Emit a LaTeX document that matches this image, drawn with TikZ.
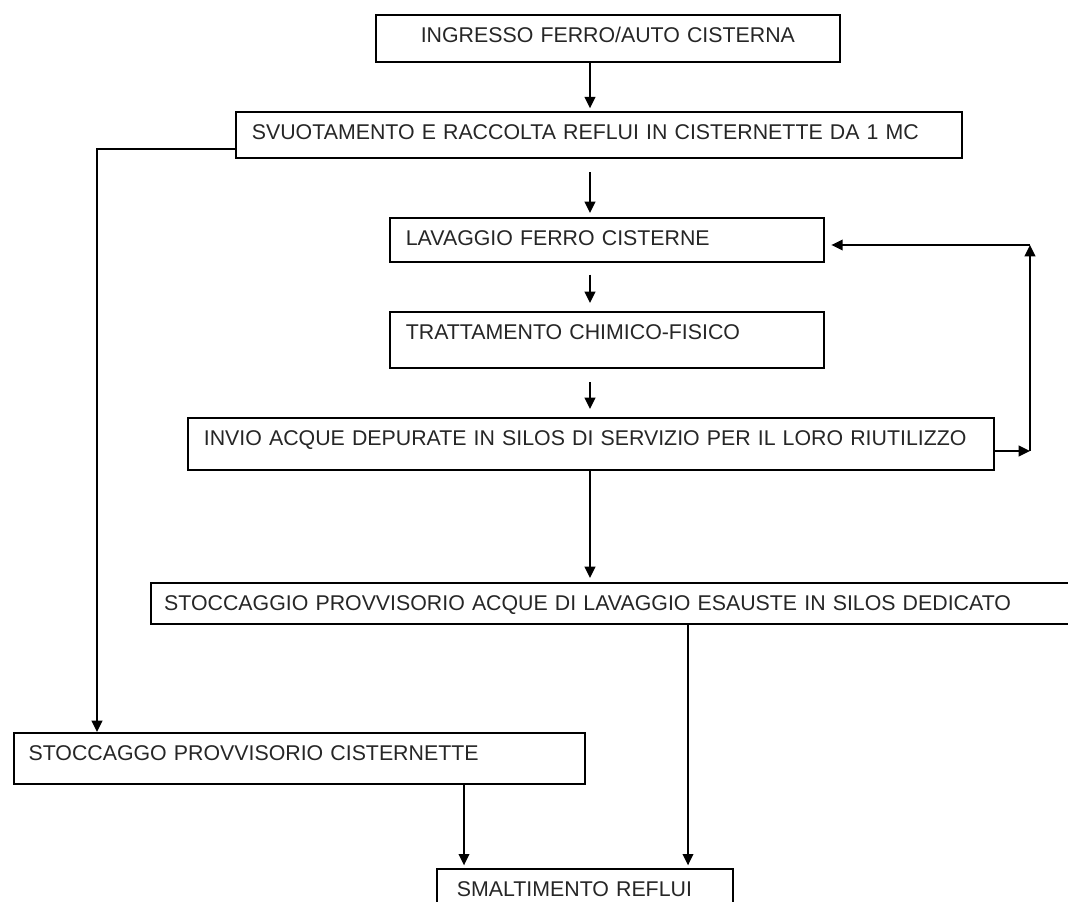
\documentclass[tikz,border=0pt]{standalone}
\usepackage{fontspec}
\setmainfont{Liberation Sans}
\usetikzlibrary{arrows.meta}

\begin{document}
\begin{tikzpicture}[x=0.75pt,y=-0.75pt,
  stepbox/.style={draw, line width=1.3pt, anchor=north west, align=left,
    inner xsep=12pt, inner ysep=0pt, text height=21pt,
    font=\fontsize{16}{19}\selectfont, text=black!85},
  arr/.style={-{Triangle[length=8.5pt,width=8pt]}, line width=1.3pt}]
  \useasboundingbox (0,0) rectangle (1068,902);
  \clip (0,0) rectangle (1068,902);

  \node[stepbox,align=center,text width=324pt,text depth=14.25pt] (ingresso) at (375,14) {INGRESSO FERRO/AUTO CISTERNA};
  \node[stepbox,text width=520.5pt,text depth=13.5pt] (svuotamento) at (235,111) {SVUOTAMENTO E RACCOLTA REFLUI IN CISTERNETTE DA 1 MC};
  \node[stepbox,text width=301.5pt,text depth=12pt] (lavaggio) at (389,217) {LAVAGGIO FERRO CISTERNE};
  \node[stepbox,text width=301.5pt,text depth=21pt] (trattamento) at (389,311) {TRATTAMENTO CHIMICO-FISICO};
  \node[stepbox,text width=580.5pt,text depth=18pt] (invio) at (187,417) {INVIO ACQUE DEPURATE IN SILOS DI SERVIZIO PER IL LORO RIUTILIZZO};
  \node[stepbox,inner xsep=10pt,text width=673.75pt,text depth=9.75pt] (stoccaggio) at (150,582) {STOCCAGGIO PROVVISORIO ACQUE DI LAVAGGIO ESAUSTE IN SILOS DEDICATO};
  \node[stepbox,inner xsep=11pt,text width=406.25pt,text depth=17.25pt] (cisternette) at (13,732) {STOCCAGGO PROVVISORIO CISTERNETTE};
  \node[stepbox,inner xsep=15pt,text width=192pt,text depth=24pt] (smaltimento) at (436,868) {SMALTIMENTO REFLUI};

  % linea principale
  \coordinate (spine) at (590,0);
  \draw[arr, shorten >=2pt] (ingresso.south -| spine) -- (svuotamento.north -| spine);
  \draw[arr, shorten <=10pt, shorten >=3pt] (svuotamento.south -| spine) -- (lavaggio.north -| spine);
  \draw[arr, shorten <=9pt, shorten >=6pt] (lavaggio.south -| spine) -- (trattamento.north -| spine);
  \draw[arr, shorten <=10pt, shorten >=6pt] (trattamento.south -| spine) -- (invio.north -| spine);
  \draw[arr, shorten >=3pt] (invio.south -| spine) -- (stoccaggio.north -| spine);

  % ramo cisternette
  \coordinate (leftbend) at (97,149);
  \draw[arr] (svuotamento.west |- leftbend) -- (leftbend) -- (cisternette.north -| leftbend);

  % ricircolo acque
  \coordinate (loopdown) at (1030,451);
  \coordinate (loopup) at (1030,245);
  \draw[arr] (invio.east |- loopdown) -- (loopdown);
  \draw[arr] (loopdown) -- (loopup);
  \draw[arr, shorten >=5pt] (loopup) -- (lavaggio.east |- loopup);

  % smaltimento
  \coordinate (leftdrop) at (464,0);
  \coordinate (rightdrop) at (688,0);
  \draw[arr, shorten >=2pt] (cisternette.south -| leftdrop) -- (smaltimento.north -| leftdrop);
  \draw[arr, shorten >=2pt] (stoccaggio.south -| rightdrop) -- (smaltimento.north -| rightdrop);
\end{tikzpicture}
\end{document}
